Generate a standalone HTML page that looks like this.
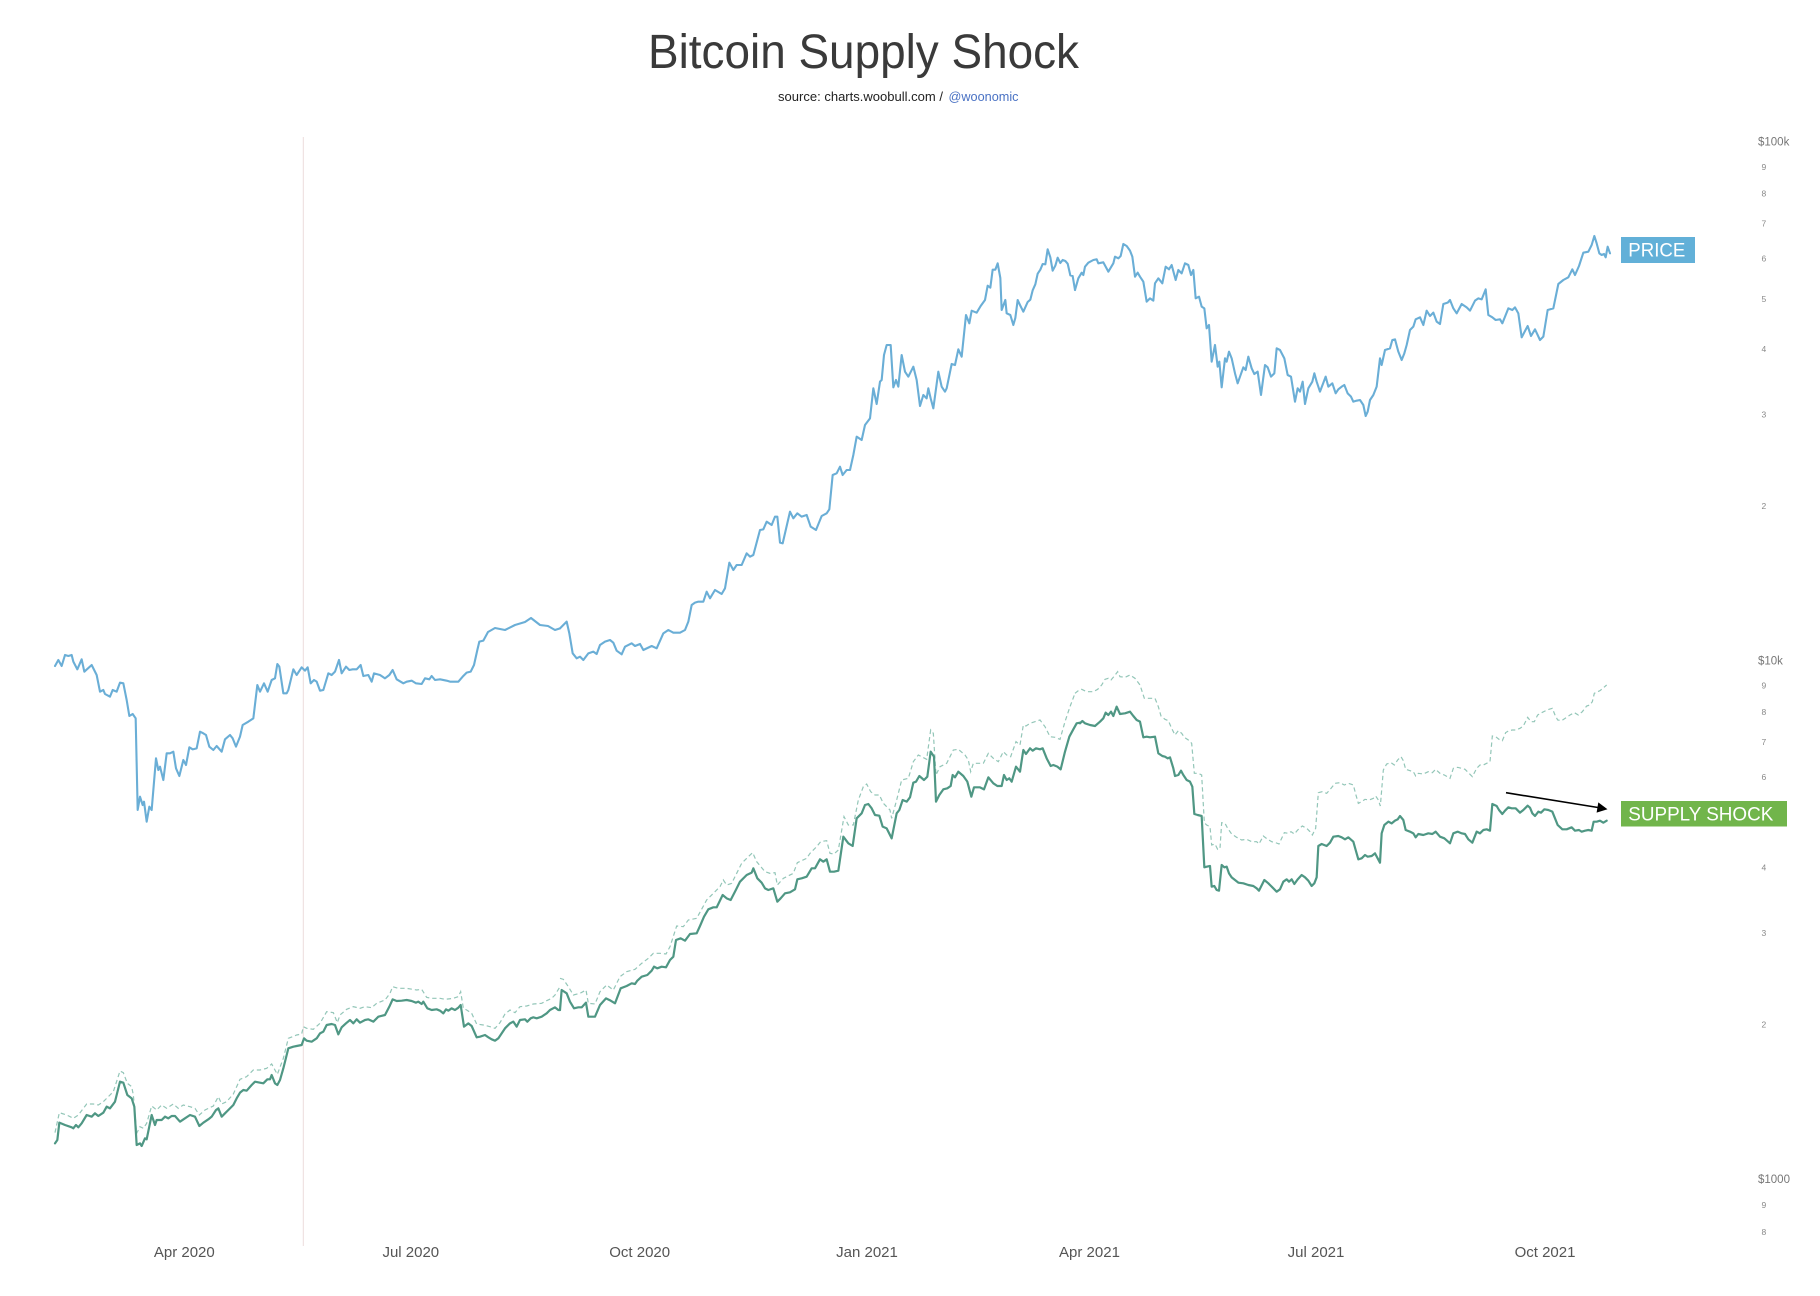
<!DOCTYPE html>
<html><head><meta charset="utf-8"><style>
html,body{margin:0;padding:0;background:#fff;}
svg{display:block;}
text{font-family:"Liberation Sans",Arial,sans-serif;}
</style></head><body>
<svg width="1820" height="1296" viewBox="0 0 1820 1296" xmlns="http://www.w3.org/2000/svg">
<rect width="1820" height="1296" fill="#fff"/>
<text x="648" y="68" font-size="48" fill="#3a3a3a" textLength="431" lengthAdjust="spacingAndGlyphs">Bitcoin Supply Shock</text>
<text x="778" y="101" font-size="12.5" fill="#222" textLength="165" lengthAdjust="spacingAndGlyphs">source: charts.woobull.com /</text>
<text x="948.5" y="101" font-size="12.5" fill="#4a72c4" textLength="70" lengthAdjust="spacingAndGlyphs">@woonomic</text>

<line x1="303.3" y1="137" x2="303.3" y2="1246" stroke="#ecdcdc" stroke-width="1"/>

<!-- PRICE -->
<g fill="none" stroke="#6aaed6" stroke-width="6.3" stroke-linejoin="round" stroke-linecap="round">
<g transform="translate(40,640) scale(0.333333)">
<polyline points="45,78 55,60 65,78 75,45 85,48 95,45 100,65 112,88 125,58 133,95 155,75 170,105 180,155 190,150 195,162 210,170 218,150 230,155 240,128 250,130 260,180 268,228 278,222 287,235 293,510 300,470 308,495 312,485 320,545 328,500 335,510 348,355 355,390 360,380 370,420 380,340 390,340 400,335 408,385 418,408 430,360 438,375 448,322 458,328 470,325 480,275 490,280 498,285 508,320 520,330 530,318 545,335 555,298 570,285 578,295 588,320 600,290 608,255 625,245 640,235 652,135 660,155 672,130 683,155 695,120 705,115 712,72 718,80 730,160 740,160 745,150 760,88 770,105 785,82 795,92 803,82 812,130 822,120 830,125 840,152 850,150 865,100 875,105 885,95 897,60 905,100 918,80 928,90 938,88 950,88 962,75 970,108 985,105 995,125 1002,100 1020,105 1035,115 1048,105 1058,90 1070,118 1090,130 1100,125 1115,122 1128,130 1145,132 1155,115 1168,118 1175,108 1185,120 1200,118 1220,122 1230,125 1255,125 1268,110 1280,98 1292,95 1302,75 1312,30 1318,5 1330,2 1344,-24 1365,-36 1395,-30 1425,-45 1455,-54 1473,-66 1500,-45 1524,-42 1545,-30 1560,-35"/>
</g>
<g transform="translate(560,300) scale(0.333333)">
<polyline points="0,985 20,965 28,1000 38,1060 50,1075 60,1070 70,1080 85,1060 100,1055 110,1062 120,1035 135,1025 150,1020 160,1028 170,1052 185,1063 195,1040 215,1030 225,1038 240,1032 250,1050 275,1038 290,1045 310,1000 325,990 340,998 360,998 375,990 385,965 395,915 405,908 415,905 430,905 440,875 450,895 465,870 485,882 495,865 508,788 520,810 530,795 545,795 560,760 570,770 580,765 600,690 610,688 620,665 635,675 645,650 652,650 660,728 668,730 690,635 700,655 712,640 725,650 740,645 752,680 768,690 785,648 800,640 808,628 818,525 830,520 840,500 848,525 860,510 870,510 880,465 890,410 905,420 915,375 930,355 940,265 950,312 960,245 965,240 972,165 980,135 992,135 1000,262 1008,240 1015,260 1025,165 1035,215 1045,230 1060,200 1070,240 1080,318 1090,285 1100,295 1105,265 1112,295 1120,325 1135,215 1145,260 1155,275 1160,265 1175,192 1185,195 1195,148 1205,170 1218,45 1228,70 1235,32 1250,38 1262,18 1275,0 1283,-43 1291,-37 1298,-91 1306,-91 1313,-110 1321,-66 1325,30 1336,0 1340,40 1351,45 1360,75 1366,54 1373,0 1380,15 1390,35 1403,6 1411,-1 1418,-29 1426,-47 1433,-79 1441,-91 1448,-108 1456,-107 1463,-152 1471,-128 1478,-88 1486,-103 1493,-127 1501,-111 1508,-120 1516,-117 1523,-109 1531,-74 1538,-72 1545,-30"/>
</g>
<g transform="translate(1075,230) scale(0.333333)">
<polyline points="0,180 10,145 20,128 25,135 30,110 40,98 55,90 65,88 70,100 85,97 100,125 115,100 120,80 130,85 137,78 145,42 155,48 165,62 172,80 180,140 188,128 195,140 205,155 215,215 225,205 235,212 240,160 250,145 262,160 272,110 282,118 290,105 302,150 310,120 320,130 330,100 340,105 348,135 355,120 362,205 372,200 380,230 388,235 395,295 402,285 410,395 420,345 428,410 433,395 440,472 450,385 455,395 462,365 470,385 480,430 488,460 495,440 505,412 512,420 520,380 530,415 538,432 548,425 558,495 570,405 578,412 588,440 598,430 605,355 615,360 628,385 638,435 648,440 660,515 668,475 675,485 683,455 690,522 700,475 712,455 718,430 725,455 735,485 752,440 760,470 772,460 782,490 790,478 800,470 808,465 818,490 828,500 835,515 845,512 855,510 865,525 872,558 878,545 885,510 895,495 905,470 915,385 920,405 930,360 945,355 952,330 960,328 970,365 980,390 988,370 995,345 1005,300 1015,290 1022,268 1035,262 1045,285 1055,242 1065,258 1075,248 1085,275 1095,282 1105,222 1118,218 1125,210 1135,235 1145,250 1160,222 1175,232 1185,242 1200,212 1210,205 1220,208 1232,178 1240,255 1252,262 1262,270 1275,268 1282,280 1300,235 1312,240 1320,232 1330,250 1340,322 1358,288 1368,318 1380,298 1395,330 1405,320 1418,240 1435,235 1450,162 1465,150 1480,142 1492,118 1500,135 1512,108 1525,68 1540,65 1550,45 1558,18 1565,40 1573,70 1580,75 1587,72 1592,82 1598,50 1605,70"/>
</g>
</g>

<!-- SUPPLY SHOCK dashed -->
<g fill="none" stroke="#93c6b8" stroke-width="3.6" stroke-dasharray="13 9">
<g transform="translate(40,640) scale(0.333333)">
<polyline points="45,1478 58,1418 80,1425 100,1435 115,1425 140,1392 160,1392 175,1395 190,1385 205,1370 220,1355 240,1293 250,1298 262,1330 275,1340 280,1365 290,1480 300,1460 310,1465 320,1450 335,1398 350,1410 365,1395 380,1405 400,1392 415,1405 430,1395 450,1400 465,1405 478,1425 495,1410 520,1398 535,1370 545,1392 560,1385 580,1362 600,1318 620,1310 640,1290 660,1290 680,1285 695,1272 712,1303 730,1255 745,1195 770,1185 785,1182 790,1160 800,1165 820,1168 840,1150 860,1115 880,1118 892,1148 900,1125 920,1108 940,1100 960,1105 975,1100 995,1103 1010,1090 1035,1080 1050,1060 1058,1040 1075,1045 1100,1045 1130,1050 1145,1048 1160,1072 1175,1075 1200,1075 1215,1078 1240,1075 1255,1070 1262,1055 1270,1105 1280,1110 1295,1120 1310,1152 1330,1155 1350,1160 1365,1165 1380,1148 1395,1122 1410,1110 1425,1118 1440,1100 1460,1098 1480,1092 1505,1090 1520,1082 1535,1075 1545,1065 1560,1040"/>
</g>
<g transform="translate(560,700) scale(0.333333)">
<polyline points="0,835 10,838 25,860 40,885 60,880 78,870 85,910 105,912 120,875 140,855 160,870 180,830 200,815 225,808 245,790 265,775 280,760 300,760 318,762 330,740 350,678 370,680 385,660 410,655 440,600 462,578 480,560 490,540 500,555 515,550 545,490 565,470 578,458 590,485 615,515 630,520 645,518 652,555 670,535 700,520 712,488 740,475 750,460 770,440 782,425 800,422 810,460 822,462 835,450 852,350 865,375 880,375 895,300 910,260 920,252 932,275 945,285 958,285 970,310 990,330 995,355 1010,300 1025,240 1045,235 1060,185 1075,165 1100,178 1112,90 1120,100 1128,225 1140,200 1160,190 1180,150 1195,148 1215,165 1225,180 1232,215 1240,190 1270,190 1285,160 1300,175 1315,185 1330,155 1340,165 1352,170 1368,125 1380,135 1390,75 1398,78 1410,70 1440,60 1455,80 1470,110 1485,112 1500,118 1515,65 1530,20 1545,-20"/>
</g>
<g transform="translate(1075,640) scale(0.333333)">
<polyline points="0,160 10,152 20,148 35,155 55,155 68,148 80,135 90,118 100,115 108,120 118,108 128,95 135,110 150,112 165,105 180,115 195,135 208,175 220,175 240,175 250,200 258,228 270,238 280,242 290,265 300,285 310,272 320,280 328,292 340,300 350,310 358,400 370,400 380,405 388,548 395,555 405,560 410,615 420,612 428,628 435,625 440,548 450,550 458,565 470,582 485,592 500,600 515,598 530,605 545,605 552,612 565,588 578,598 590,605 602,608 612,612 628,578 640,580 648,575 658,582 668,570 682,558 695,565 705,575 712,585 722,565 730,458 742,455 755,460 768,445 780,430 795,428 808,435 820,430 835,435 842,462 850,490 860,485 870,478 882,480 895,475 902,468 910,480 916,498 925,390 935,372 948,368 958,375 968,360 978,350 985,362 992,388 1005,392 1015,395 1022,408 1030,400 1045,402 1060,395 1072,398 1082,388 1095,400 1108,405 1125,415 1135,385 1148,382 1160,385 1170,388 1180,398 1192,410 1205,385 1215,375 1225,375 1235,370 1245,365 1252,288 1262,290 1272,298 1282,302 1292,278 1302,272 1312,270 1322,270 1335,265 1345,258 1358,232 1368,245 1378,245 1388,225 1400,218 1412,212 1422,208 1432,205 1440,225 1448,240 1460,242 1475,232 1485,225 1498,218 1510,225 1522,215 1535,198 1545,195 1552,185 1558,160 1575,152 1595,135"/>
</g>
</g>

<!-- SUPPLY SHOCK solid -->
<g fill="none" stroke="#4f9784" stroke-width="6.6" stroke-linejoin="round" stroke-linecap="round">
<g transform="translate(40,640) scale(0.333333)">
<polyline points="45,1510 52,1500 58,1448 75,1455 95,1462 100,1465 108,1455 115,1462 125,1450 140,1425 155,1430 165,1420 175,1428 190,1418 200,1400 210,1405 225,1385 240,1325 250,1328 262,1365 275,1375 283,1400 290,1515 300,1510 305,1518 315,1495 320,1498 335,1425 345,1455 350,1440 365,1440 375,1430 385,1435 395,1428 405,1428 420,1445 435,1435 450,1425 465,1430 478,1458 490,1448 505,1438 515,1430 528,1410 535,1405 545,1430 555,1420 565,1410 580,1395 590,1375 600,1358 610,1350 620,1352 635,1335 645,1325 660,1328 670,1330 682,1318 690,1318 695,1305 705,1330 712,1335 720,1320 730,1285 745,1225 760,1220 770,1218 785,1215 792,1195 800,1202 815,1205 830,1195 840,1180 850,1175 860,1155 875,1152 885,1155 895,1183 905,1162 918,1150 930,1140 940,1150 950,1138 960,1148 975,1140 985,1138 1000,1145 1015,1130 1035,1125 1048,1100 1058,1078 1070,1083 1085,1082 1100,1080 1115,1083 1128,1088 1135,1085 1145,1092 1150,1085 1162,1105 1175,1110 1190,1108 1200,1112 1210,1120 1218,1108 1225,1112 1235,1105 1245,1110 1255,1103 1262,1095 1272,1160 1285,1150 1295,1158 1310,1192 1320,1190 1335,1185 1345,1192 1355,1198 1365,1202 1375,1195 1385,1180 1395,1165 1410,1150 1420,1145 1430,1160 1440,1140 1455,1138 1462,1145 1472,1135 1480,1132 1490,1135 1505,1130 1520,1120 1530,1110 1545,1102 1555,1110 1560,1110"/>
</g>
<g transform="translate(560,700) scale(0.333333)">
<polyline points="0,930 5,870 20,880 30,905 42,925 55,922 65,922 78,908 85,950 105,950 120,915 138,895 152,902 165,910 182,865 200,858 215,850 225,852 232,842 245,830 262,825 275,812 282,800 292,805 305,800 318,802 330,780 340,770 348,720 362,715 375,722 390,702 410,700 420,678 432,650 445,628 460,622 470,622 488,585 500,595 512,600 525,575 540,545 560,525 575,518 580,505 592,535 605,548 615,565 625,570 640,565 652,605 662,595 675,580 690,577 705,568 712,538 725,535 740,530 755,505 765,505 780,478 790,485 800,478 810,515 822,515 835,512 850,410 865,430 878,438 890,355 905,340 915,315 925,312 935,325 945,345 958,347 968,380 980,385 995,415 1010,340 1018,330 1028,300 1040,305 1050,292 1060,248 1068,245 1078,228 1092,240 1102,230 1112,155 1122,170 1128,305 1138,285 1150,268 1162,265 1172,258 1178,225 1185,232 1195,215 1210,228 1222,245 1234,290 1242,262 1260,262 1272,268 1285,232 1300,250 1312,258 1325,258 1332,225 1340,240 1348,235 1355,245 1368,200 1380,215 1390,150 1398,162 1410,145 1418,152 1428,145 1440,148 1448,145 1460,175 1472,198 1480,195 1492,200 1502,208 1515,155 1528,110 1540,88 1550,70 1560,68"/>
</g>
<g transform="translate(1075,640) scale(0.333333)">
<polyline points="15,250 22,243 30,250 45,255 60,258 75,245 85,235 92,218 100,225 108,215 115,228 125,200 135,222 150,220 165,215 175,228 185,240 195,245 205,292 215,290 225,292 240,290 250,340 262,348 270,350 278,355 285,352 295,385 300,408 310,405 318,392 325,405 335,420 345,425 352,440 358,522 368,525 380,528 388,682 395,680 405,678 410,740 418,738 425,750 432,752 440,675 448,682 455,680 462,700 470,712 490,728 505,730 520,735 535,738 545,745 552,752 568,720 580,730 592,742 605,755 615,748 625,725 635,718 642,725 650,718 658,732 668,718 680,705 690,712 700,722 710,738 718,730 725,712 730,618 740,612 755,618 765,608 775,590 790,588 800,592 810,598 820,592 835,605 842,630 850,658 860,655 870,645 878,650 890,648 900,640 908,655 915,668 920,580 928,555 940,545 950,550 960,542 968,538 975,528 985,540 992,570 1005,575 1015,580 1022,592 1030,582 1045,585 1060,580 1072,582 1082,575 1095,590 1108,595 1125,610 1135,580 1148,575 1160,580 1170,582 1180,598 1192,608 1205,575 1215,580 1225,570 1235,568 1245,572 1252,492 1265,498 1272,510 1282,522 1290,512 1300,502 1310,505 1322,505 1335,518 1345,510 1358,497 1365,503 1372,520 1380,528 1390,515 1398,518 1408,508 1420,510 1432,515 1440,535 1448,555 1462,568 1475,568 1490,562 1500,572 1512,570 1520,575 1530,572 1540,570 1550,572 1556,545 1565,545 1575,542 1585,548 1595,542"/>
</g>
</g>

<!-- arrow -->
<line x1="1506" y1="792.7" x2="1598" y2="807.5" stroke="#000" stroke-width="1.6"/>
<polygon points="1607.5,809.2 1596.6,812.6 1598.3,802.4" fill="#000"/>

<!-- labels -->
<rect x="1621" y="237" width="74" height="26" fill="#62b0d8"/>
<text x="1628.3" y="256.7" font-size="19.5" fill="#fff" textLength="57" lengthAdjust="spacingAndGlyphs">PRICE</text>
<rect x="1621" y="801" width="166" height="25.5" fill="#71b54b"/>
<text x="1628.3" y="820.3" font-size="19" fill="#fff" textLength="145" lengthAdjust="spacingAndGlyphs">SUPPLY SHOCK</text>

<!-- y axis ticks -->
<g fill="#777" font-size="11.5">
<text x="1758" y="145.3">$100k</text>
<text x="1758" y="664.3">$10k</text>
<text x="1758" y="1183">$1000</text>
</g>
<g fill="#888" font-size="8.5">
<text x="1761.5" y="170">9</text>
<text x="1761.5" y="196.5">8</text>
<text x="1761.5" y="226.5">7</text>
<text x="1761.5" y="261.5">6</text>
<text x="1761.5" y="302">5</text>
<text x="1761.5" y="352">4</text>
<text x="1761.5" y="417.5">3</text>
<text x="1761.5" y="509">2</text>
<text x="1761.5" y="688.7">9</text>
<text x="1761.5" y="715.2">8</text>
<text x="1761.5" y="745">7</text>
<text x="1761.5" y="780">6</text>
<text x="1761.5" y="870.5">4</text>
<text x="1761.5" y="936">3</text>
<text x="1761.5" y="1027.5">2</text>
<text x="1761.5" y="1208">9</text>
<text x="1761.5" y="1235">8</text>
</g>

<!-- x axis -->
<g fill="#555" font-size="15" text-anchor="middle">
<text x="184.3" y="1257">Apr 2020</text>
<text x="410.8" y="1257">Jul 2020</text>
<text x="639.7" y="1257">Oct 2020</text>
<text x="867" y="1257">Jan 2021</text>
<text x="1089.5" y="1257">Apr 2021</text>
<text x="1316" y="1257">Jul 2021</text>
<text x="1545" y="1257">Oct 2021</text>
</g>
</svg>
</body></html>
